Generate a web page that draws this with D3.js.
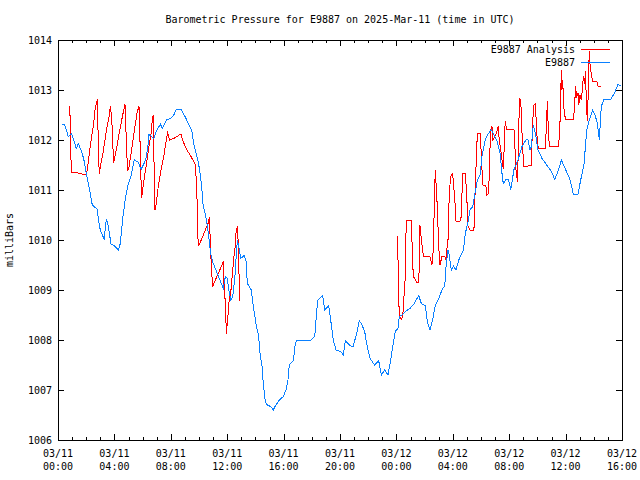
<!DOCTYPE html>
<html><head><meta charset="utf-8">
<script src="https://cdn.jsdelivr.net/npm/d3@7"></script>
<style>
body{margin:0;background:#fff;}
svg text{font-family:"DejaVu Sans Mono",monospace;font-size:10px;fill:#000;}
</style></head>
<body><svg id="c" width="640" height="480"></svg>
<script>
const title = "Barometric Pressure for E9887 on 2025-Mar-11 (time in UTC)";
const yLabel = "milliBars";
const seriesNames = ["E9887 Analysis", "E9887"];
const yTicks = [1006,1007,1008,1009,1010,1011,1012,1013,1014];
const xTickLabels = [["03/11","00:00"],["03/11","04:00"],["03/11","08:00"],["03/11","12:00"],["03/11","16:00"],["03/11","20:00"],["03/12","00:00"],["03/12","04:00"],["03/12","08:00"],["03/12","12:00"],["03/12","16:00"]];

// hours since 2025-03-11 00:00 UTC
const stationHours = [0.30,0.45,0.73,0.97,1.30,1.44,1.63,1.82,1.96,2.15,2.29,2.43,2.77,2.91,3.00,3.28,3.38,3.45,3.57,3.76,3.99,4.28,4.42,4.61,4.80,4.99,5.18,5.41,5.70,5.89,6.22,6.36,6.45,6.79,6.97,7.26,7.40,7.73,7.96,8.21,8.39,8.72,9.01,9.24,9.48,9.62,9.77,9.91,10.05,10.19,10.28,10.45,10.55,10.69,10.83,11.01,11.30,11.58,11.72,11.87,12.01,12.11,12.25,12.39,12.53,12.62,12.72,12.82,12.96,13.19,13.33,13.43,13.71,13.85,14.04,14.23,14.33,14.47,14.56,14.70,14.84,15.08,15.27,15.41,15.70,15.98,16.17,16.31,16.40,16.69,16.83,16.93,17.92,18.21,18.35,18.44,18.77,18.91,19.20,19.34,19.52,19.72,20.05,20.23,20.38,20.57,20.76,20.94,21.18,21.37,21.56,21.75,21.89,22.13,22.46,22.74,22.93,23.17,23.40,23.60,23.74,23.92,24.11,24.21,24.40,24.63,24.96,25.25,25.58,25.77,26.05,26.19,26.38,26.57,26.76,27.00,27.23,27.43,27.52,27.66,27.75,27.89,28.04,28.23,28.42,28.56,28.75,28.89,29.08,29.22,29.41,29.60,29.74,29.93,30.07,30.16,30.30,30.45,30.73,30.92,31.11,31.35,31.49,31.58,31.77,31.96,32.11,32.34,32.62,32.91,33.19,33.33,33.48,33.57,33.71,33.90,34.04,34.33,34.66,34.99,35.23,35.46,35.70,35.94,36.12,36.31,36.55,36.88,37.07,37.30,37.50,37.68,37.92,38.11,38.25,38.39,38.53,38.72,39.20,39.48,39.72,39.93];
const stationValues = [1012.32,1012.32,1012.07,1012.13,1011.83,1011.93,1011.80,1011.63,1011.40,1011.13,1010.93,1010.70,1010.62,1010.33,1010.20,1010.01,1010.33,1010.41,1010.27,1009.92,1009.89,1009.80,1009.93,1010.47,1010.87,1011.13,1011.28,1011.61,1011.55,1011.41,1011.60,1011.83,1012.11,1012.03,1012.17,1012.32,1012.23,1012.41,1012.43,1012.50,1012.61,1012.61,1012.47,1012.33,1012.20,1011.93,1011.77,1011.60,1011.40,1011.07,1010.73,1010.50,1010.37,1010.07,1009.73,1009.53,1009.33,1009.13,1009.03,1009.27,1009.23,1009.00,1008.80,1008.87,1009.20,1009.60,1010.00,1009.87,1009.63,1009.69,1009.60,1009.13,1009.00,1008.67,1008.33,1008.07,1007.73,1007.47,1007.13,1006.77,1006.70,1006.67,1006.60,1006.68,1006.80,1006.87,1007.00,1007.20,1007.50,1007.59,1007.93,1007.99,1007.99,1008.07,1008.60,1008.80,1008.89,1008.60,1008.69,1008.40,1008.00,1007.80,1007.77,1007.70,1007.99,1007.93,1007.88,1007.88,1008.13,1008.39,1008.30,1008.17,1007.93,1007.63,1007.50,1007.59,1007.30,1007.40,1007.30,1007.60,1007.87,1008.17,1008.23,1008.47,1008.50,1008.57,1008.63,1008.72,1008.89,1008.73,1008.69,1008.37,1008.20,1008.40,1008.70,1008.83,1009.00,1009.09,1009.47,1009.80,1009.70,1009.40,1009.48,1009.40,1009.60,1009.68,1009.80,1010.13,1010.37,1010.60,1010.67,1010.97,1011.20,1011.30,1011.67,1011.80,1012.00,1012.10,1012.21,1012.10,1012.00,1011.73,1011.33,1011.13,1011.21,1011.20,1011.01,1011.41,1011.60,1011.87,1012.00,1012.01,1011.80,1011.87,1012.30,1012.07,1011.80,1011.63,1011.50,1011.37,1011.21,1011.37,1011.60,1011.45,1011.33,1011.21,1010.92,1010.92,1011.20,1011.50,1012.20,1012.40,1012.60,1012.48,1012.33,1012.01,1012.67,1012.81,1012.81,1012.95,1013.11,1013.08];

const analysisHours = [0.83,0.87,0.92,0.93,1.21,1.68,1.72,2.01,2.11,2.25,2.39,2.53,2.62,2.72,2.79,2.82,2.86,2.93,3.05,3.19,3.33,3.48,3.62,3.71,3.81,3.90,3.95,4.04,4.18,4.33,4.47,4.61,4.75,4.80,4.89,4.94,5.04,5.18,5.32,5.46,5.60,5.74,5.79,5.84,5.94,6.03,6.17,6.31,6.45,6.60,6.69,6.74,6.79,6.83,6.88,6.97,7.11,7.30,7.50,7.64,7.78,7.82,7.92,8.21,8.72,8.87,9.15,9.43,9.72,9.81,9.88,9.91,9.96,10.16,10.45,10.64,10.73,10.78,10.83,10.87,10.92,10.97,11.11,11.35,11.58,11.72,11.77,11.87,11.91,11.96,12.01,12.11,12.15,12.20,12.29,12.39,12.48,12.57,12.62,12.72,12.77,12.82,12.86,12.91,
 18.00,
 24.06,24.11,24.16,24.21,24.35,24.45,24.54,24.63,24.68,24.73,25.06,25.11,25.16,25.20,25.44,25.58,25.62,25.67,25.77,25.87,25.91,26.38,26.52,26.62,26.67,26.72,26.76,26.81,26.90,27.00,27.09,27.23,27.43,27.52,27.57,27.66,27.75,27.85,27.99,28.04,28.13,28.23,28.51,28.60,28.70,28.89,28.99,29.08,29.22,29.50,29.60,29.74,29.93,30.02,30.12,30.35,30.40,30.55,30.59,30.69,30.78,30.83,30.97,31.11,31.21,31.30,31.40,31.49,31.58,31.63,31.67,31.72,31.82,32.34,32.43,32.48,32.53,32.57,32.62,32.67,32.72,32.82,32.86,32.96,33.05,33.57,33.62,33.67,33.76,33.85,33.90,34.00,34.09,34.56,34.66,34.70,34.75,34.84,35.51,35.60,35.70,35.74,35.79,35.89,35.99,36.55,36.65,36.69,36.79,36.88,36.93,37.02,37.11,37.16,37.26,37.36,37.40,37.50,37.54,37.59,37.64,37.68,37.73,37.82,37.92,38.21,38.30,38.53];
const analysisValues = [1012.68,1012.33,1011.68,1011.36,1011.35,1011.33,1011.31,1011.31,1011.47,1011.80,1012.07,1012.33,1012.60,1012.73,1012.81,1012.60,1011.73,1011.33,1011.53,1011.73,1012.00,1012.27,1012.47,1012.67,1012.43,1011.83,1011.55,1011.67,1011.87,1012.13,1012.33,1012.53,1012.71,1012.33,1011.67,1011.38,1011.47,1011.73,1012.00,1012.27,1012.53,1012.68,1012.47,1011.53,1010.85,1011.07,1011.33,1011.60,1011.87,1012.13,1012.40,1012.49,1012.00,1011.07,1010.60,1010.73,1011.07,1011.40,1011.67,1011.93,1012.17,1012.07,1012.00,1012.03,1012.12,1011.97,1011.80,1011.67,1011.52,1011.20,1010.67,1010.13,1009.88,1010.00,1010.20,1010.33,1010.45,1010.13,1009.80,1009.47,1009.27,1009.07,1009.17,1009.32,1009.47,1009.57,1009.13,1008.73,1008.37,1008.13,1008.40,1008.60,1008.93,1008.80,1009.07,1009.40,1009.67,1009.87,1010.13,1010.28,1010.00,1009.53,1009.07,1008.77,
 null,
 1010.07,1009.67,1008.87,1008.47,1008.41,1008.47,1008.87,1009.27,1010.13,1010.40,1010.40,1009.93,1009.53,1009.27,1009.16,1009.16,1009.47,1010.30,1010.00,1009.80,1009.67,1009.67,1009.50,1009.80,1010.47,1011.08,1011.40,1011.13,1010.67,1009.87,1009.50,1009.67,1009.67,1009.60,1009.80,1010.00,1010.93,1011.27,1011.33,1011.13,1010.87,1010.37,1010.37,1010.47,1011.33,1011.33,1010.87,1010.27,1010.20,1010.20,1011.13,1012.13,1012.13,1011.73,1011.10,1011.08,1010.90,1010.93,1011.47,1012.20,1012.27,1012.00,1012.07,1012.15,1012.27,1012.00,1011.80,1011.60,1011.43,1011.73,1012.13,1012.37,1012.21,1012.21,1011.73,1011.40,1011.33,1011.17,1011.53,1012.00,1012.83,1012.80,1012.47,1011.80,1011.47,1011.49,1012.00,1012.40,1012.70,1012.72,1012.47,1011.93,1011.83,1011.83,1012.40,1012.77,1012.40,1011.88,1011.88,1012.33,1013.39,1013.00,1013.20,1012.60,1012.41,1012.41,1012.67,1013.07,1012.87,1012.93,1012.70,1012.90,1012.81,1012.93,1013.27,1013.13,1013.37,1012.60,1012.39,1012.80,1013.40,1013.77,1013.53,1013.33,1013.17,1013.17,1013.08,1013.08];

const colors = ["#ff0000", "#0a80ff"];

const t0 = Date.UTC(2025, 2, 11, 0, 0);
const toDate = h => new Date(t0 + h * 3600e3);
const L = 58, R = 622, T = 40, B = 440;

const svg = d3.select("#c");
const x = d3.scaleUtc().domain([toDate(0), toDate(40)]).range([L, R]);
const y = d3.scaleLinear().domain([1006, 1014]).range([B, T]);

const major = d3.utcHour.every(4).range(toDate(0), toDate(40.01));
const minor = d3.utcHour.every(1).range(toDate(0), toDate(40.01));

function axisG(axis, tr) {
  const g = svg.append("g").attr("transform", tr).call(axis);
  g.select(".domain").remove();
  g.selectAll("line").attr("stroke", "#000").attr("shape-rendering", "crispEdges");
  g.selectAll("text").remove();
  return g;
}
axisG(d3.axisBottom(x).tickValues(minor).tickSizeInner(-3).tickSizeOuter(0), `translate(0,${B})`);
axisG(d3.axisBottom(x).tickValues(major).tickSizeInner(-6).tickSizeOuter(0), `translate(0,${B})`);
axisG(d3.axisTop(x).tickValues(minor).tickSizeInner(-3).tickSizeOuter(0), `translate(0,${T})`);
axisG(d3.axisTop(x).tickValues(major).tickSizeInner(-6).tickSizeOuter(0), `translate(0,${T})`);
axisG(d3.axisLeft(y).tickValues(yTicks).tickSizeInner(-6).tickSizeOuter(0), `translate(${L},0)`);
axisG(d3.axisRight(y).tickValues(yTicks).tickSizeInner(-6).tickSizeOuter(0), `translate(${R},0)`);

// labels
svg.append("g").selectAll("text").data(yTicks).join("text")
  .attr("x", L - 6).attr("y", d => y(d) + 4).attr("text-anchor", "end").text(d => d);
const xl = svg.append("g").selectAll("text").data(major).join("text")
  .attr("text-anchor", "middle").attr("x", d => x(d));
xl.append("tspan").attr("y", 457).attr("x", d => x(d)).text((d, i) => xTickLabels[i][0]);
xl.append("tspan").attr("y", 470).attr("x", d => x(d)).text((d, i) => xTickLabels[i][1]);

svg.append("text").attr("x", 340).attr("y", 23).attr("text-anchor", "middle").text(title);
svg.append("text").attr("transform", "translate(13,240) rotate(-90)").attr("text-anchor", "middle").text(yLabel);

// data
const line = d3.line().defined(d => d.v != null).x(d => x(toDate(d.h))).y(d => y(d.v));
const analysis = analysisHours.map((h, i) => ({h, v: analysisValues[i]}));
const station = stationHours.map((h, i) => ({h, v: stationValues[i]}));
const plot = svg.append("g");
plot.append("path").datum(analysis).attr("d", line).attr("fill", "none").attr("stroke", colors[0]).attr("stroke-width", 1).attr("shape-rendering", "crispEdges");
plot.append("path").datum(station).attr("d", line).attr("fill", "none").attr("stroke", colors[1]).attr("stroke-width", 1).attr("shape-rendering", "crispEdges");

// frame
svg.append("rect").attr("x", L + 0.5).attr("y", T + 0.5).attr("width", R - L).attr("height", B - T)
  .attr("fill", "none").attr("stroke", "#000").attr("shape-rendering", "crispEdges");

// legend
const leg = svg.append("g");
seriesNames.forEach((n, i) => {
  const yy = 49.5 + i * 13;
  leg.append("text").attr("x", 575).attr("y", yy + 3.5).attr("text-anchor", "end").text(n);
  leg.append("line").attr("x1", 581).attr("x2", 610).attr("y1", yy).attr("y2", yy)
    .attr("stroke", colors[i]).attr("shape-rendering", "crispEdges");
});
</script></body></html>
